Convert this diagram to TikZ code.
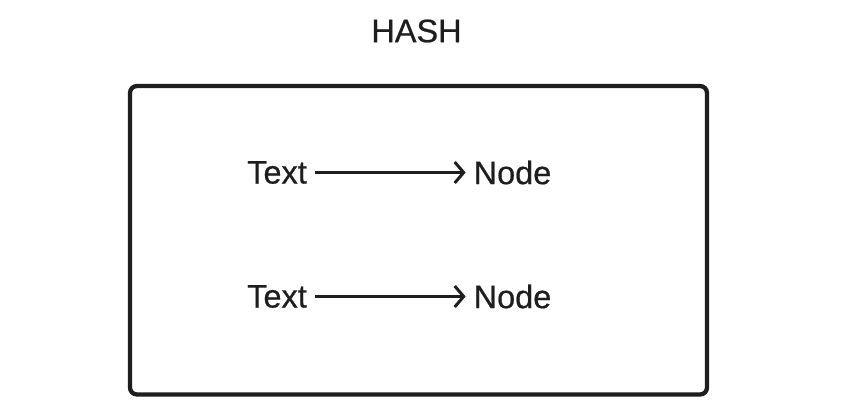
\documentclass[tikz,border=0pt]{standalone}
\usepackage{fontspec}
\setmainfont[FakeBold=0.6]{Liberation Sans}
\usetikzlibrary{arrows.meta}
\definecolor{ink}{HTML}{1E1E1E}
\begin{document}
\begin{tikzpicture}[x=1pt,y=-1pt,
  lbl/.style={inner sep=0pt,outer sep=0pt,text=ink,font=\fontsize{32.5}{38}\selectfont},
  frame/.style={draw=ink,line width=4.3pt,rounded corners=7pt},
  link/.style={draw=ink,line width=3pt,-{Straight Barb[length=9pt,width=21pt,line width=3pt]},shorten <=8pt,shorten >=8pt}]
\useasboundingbox (0,0) rectangle (860,419);
\node[lbl] (title) at (416.5,31) {HASH};
\node[frame,minimum width=577pt,minimum height=308.5pt,inner sep=0pt] (box) at (418.5,240.25) {};
\node[lbl] (t1) at (277,172.5) {Text};
\node[lbl] (n1) at (512.5,172.5) {Node};
\node[lbl] (t2) at (277,296.5) {Text};
\node[lbl] (n2) at (512.5,296.5) {Node};
\draw[link] (t1) -- (n1);
\draw[link] (t2) -- (n2);
\end{tikzpicture}
\end{document}
